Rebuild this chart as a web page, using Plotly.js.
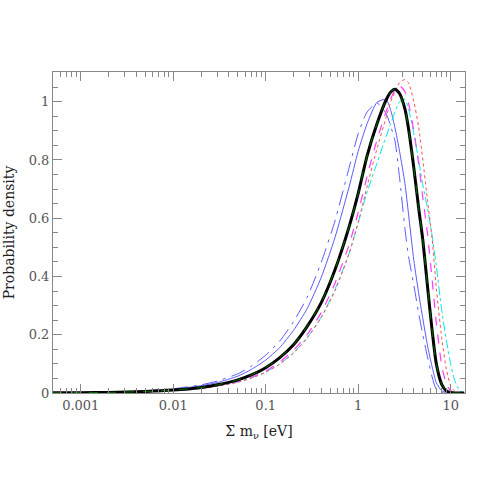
<!DOCTYPE html>
<html><head><meta charset="utf-8">
<script src="https://cdn.plot.ly/plotly-3.0.1.min.js"></script>
<style>html,body{margin:0;padding:0;background:#fff}#chart{width:491px;height:491px}</style>
</head><body><div id="chart"></div>
<script>
// Sum of neutrino masses [eV]
const massEV = [0.0005, 0.001, 0.002, 0.005, 0.01, 0.02, 0.03, 0.05, 0.07, 0.1, 0.14, 0.2, 0.28, 0.4, 0.56, 0.8, 1, 1.25, 1.6, 2, 2.25, 2.5, 2.8, 3.2, 3.5, 4, 4.5, 5, 5.6, 6.3, 7, 8, 9, 10, 11, 12.5, 14];

const blackSolid = [0.0006, 0.0011, 0.0021, 0.0051, 0.0099, 0.019, 0.028, 0.045, 0.062, 0.087, 0.120, 0.166, 0.228, 0.311, 0.422, 0.572, 0.685, 0.815, 0.925, 1.005, 1.033, 1.043, 1.028, 0.975, 0.908, 0.772, 0.637, 0.525, 0.37, 0.215, 0.10, 0.03, 0.007, 0.0015, 0.0003, 0, 0];
const greenDashed = [0.0006, 0.0011, 0.0021, 0.0051, 0.0099, 0.019, 0.028, 0.045, 0.062, 0.087, 0.120, 0.166, 0.228, 0.311, 0.422, 0.572, 0.685, 0.815, 0.925, 1.005, 1.033, 1.043, 1.028, 0.975, 0.908, 0.772, 0.637, 0.525, 0.37, 0.215, 0.10, 0.03, 0.007, 0.0015, 0.0003, 0, 0];
const blueSolid = [0.0008, 0.0014, 0.0028, 0.0066, 0.013, 0.025, 0.036, 0.058, 0.081, 0.113, 0.154, 0.215, 0.289, 0.398, 0.533, 0.709, 0.83, 0.925, 0.998, 1.008, 0.97, 0.91, 0.83, 0.72, 0.615, 0.455, 0.345, 0.255, 0.165, 0.09, 0.035, 0.008, 0.001, 0, 0, 0, 0];
const blueDashDot = [0.0009, 0.0016, 0.0031, 0.0075, 0.0146, 0.028, 0.041, 0.066, 0.092, 0.13, 0.176, 0.245, 0.328, 0.45, 0.59, 0.775, 0.89, 0.965, 0.995, 0.96, 0.915, 0.865, 0.74, 0.565, 0.47, 0.37, 0.275, 0.2, 0.125, 0.055, 0.012, 0.002, 0, 0, 0, 0, 0];
const magentaDashed = [0.0005, 0.001, 0.0018, 0.0045, 0.0087, 0.0168, 0.025, 0.040, 0.054, 0.076, 0.105, 0.147, 0.20, 0.277, 0.376, 0.51, 0.62, 0.745, 0.87, 0.965, 1.01, 1.04, 1.055, 1.035, 0.995, 0.90, 0.79, 0.67, 0.55, 0.39, 0.24, 0.095, 0.03, 0.008, 0.002, 0.0003, 0];
const redDotted = [0.0005, 0.0009, 0.0017, 0.0041, 0.0081, 0.0155, 0.023, 0.037, 0.051, 0.071, 0.098, 0.137, 0.188, 0.26, 0.35, 0.48, 0.585, 0.71, 0.84, 0.945, 1.0, 1.035, 1.065, 1.076, 1.065, 1.0, 0.915, 0.80, 0.665, 0.53, 0.36, 0.19, 0.08, 0.025, 0.007, 0.001, 0];
const cyanDashDot = [0.0005, 0.0009, 0.0017, 0.0042, 0.0083, 0.016, 0.024, 0.038, 0.052, 0.072, 0.099, 0.138, 0.19, 0.262, 0.355, 0.48, 0.585, 0.69, 0.79, 0.88, 0.925, 0.965, 1.0, 1.008, 0.975, 0.89, 0.80, 0.715, 0.635, 0.54, 0.435, 0.285, 0.18, 0.10, 0.045, 0.008, 0];

const xTickVals = [0.001, 0.01, 0.1, 1, 10];
const xTickText = ['0.001', '0.01', '0.1', '1', '10'];
const yTickVals = [0, 0.2, 0.4, 0.6, 0.8, 1];
const yTickText = ['0', '0.2', '0.4', '0.6', '0.8', '1'];

const xMinor = [];
for (let e = -4; e <= 1; e++) for (let k = 2; k <= 9; k++) xMinor.push(k * Math.pow(10, e));
const yMinor = [];
for (let v = 0.05; v < 1.1; v += 0.05) yMinor.push(+v.toFixed(2));

function curve(y, color, width, dash) {
  return {x: massEV, y: y, type: 'scatter', mode: 'lines',
    line: {color: color, width: width, dash: dash, shape: 'spline', smoothing: 0.6},
    hoverinfo: 'skip', showlegend: false};
}

const traces = [
  curve(blueDashDot, 'rgb(90,90,255)', 1, 'longdashdot'),
  curve(blueSolid, 'rgb(90,90,255)', 1, 'solid'),
  curve(cyanDashDot, 'rgb(0,230,230)', 1, 'dashdot'),
  curve(redDotted, 'rgb(255,80,80)', 1, 'dot'),
  curve(magentaDashed, 'rgb(255,60,255)', 1.2, 'dash'),
  curve(blackSolid, '#000', 3, 'solid'),
  curve(greenDashed, 'rgb(0,110,0)', 1, 'dash')
];

const font = 'DejaVu Serif';
const axisCommon = {
  showline: true, linecolor: '#888', linewidth: 1, mirror: 'allticks',
  ticks: 'inside', ticklen: 9, tickcolor: '#888', tickwidth: 1,
  showgrid: false, zeroline: false,
  tickfont: {family: font, size: 13, color: '#555'}
};

const layout = {
  width: 491, height: 491,
  margin: {l: 53, r: 26, t: 72, b: 98},
  paper_bgcolor: '#fff', plot_bgcolor: '#fff',
  xaxis: Object.assign({}, axisCommon, {
    type: 'log', range: [-3.30, 1.155],
    tickmode: 'array', tickvals: xTickVals, ticktext: xTickText,
    minor: {tickmode: 'array', tickvals: xMinor, ticks: 'inside', ticklen: 5, tickcolor: '#888', showgrid: false},
    title: {text: 'Σ m<sub>ν</sub> [eV]', font: {family: font, size: 14, color: '#222'}, standoff: 14}
  }),
  yaxis: Object.assign({}, axisCommon, {
    range: [0, 1.102],
    tickmode: 'array', tickvals: yTickVals, ticktext: yTickText,
    minor: {tickmode: 'array', tickvals: yMinor, ticks: 'inside', ticklen: 5, tickcolor: '#888', showgrid: false},
    title: {text: 'Probability density', font: {family: font, size: 14, color: '#222'}, standoff: 10}
  })
};

Plotly.newPlot('chart', traces, layout, {displayModeBar: false, staticPlot: true});
</script>
</body></html>
